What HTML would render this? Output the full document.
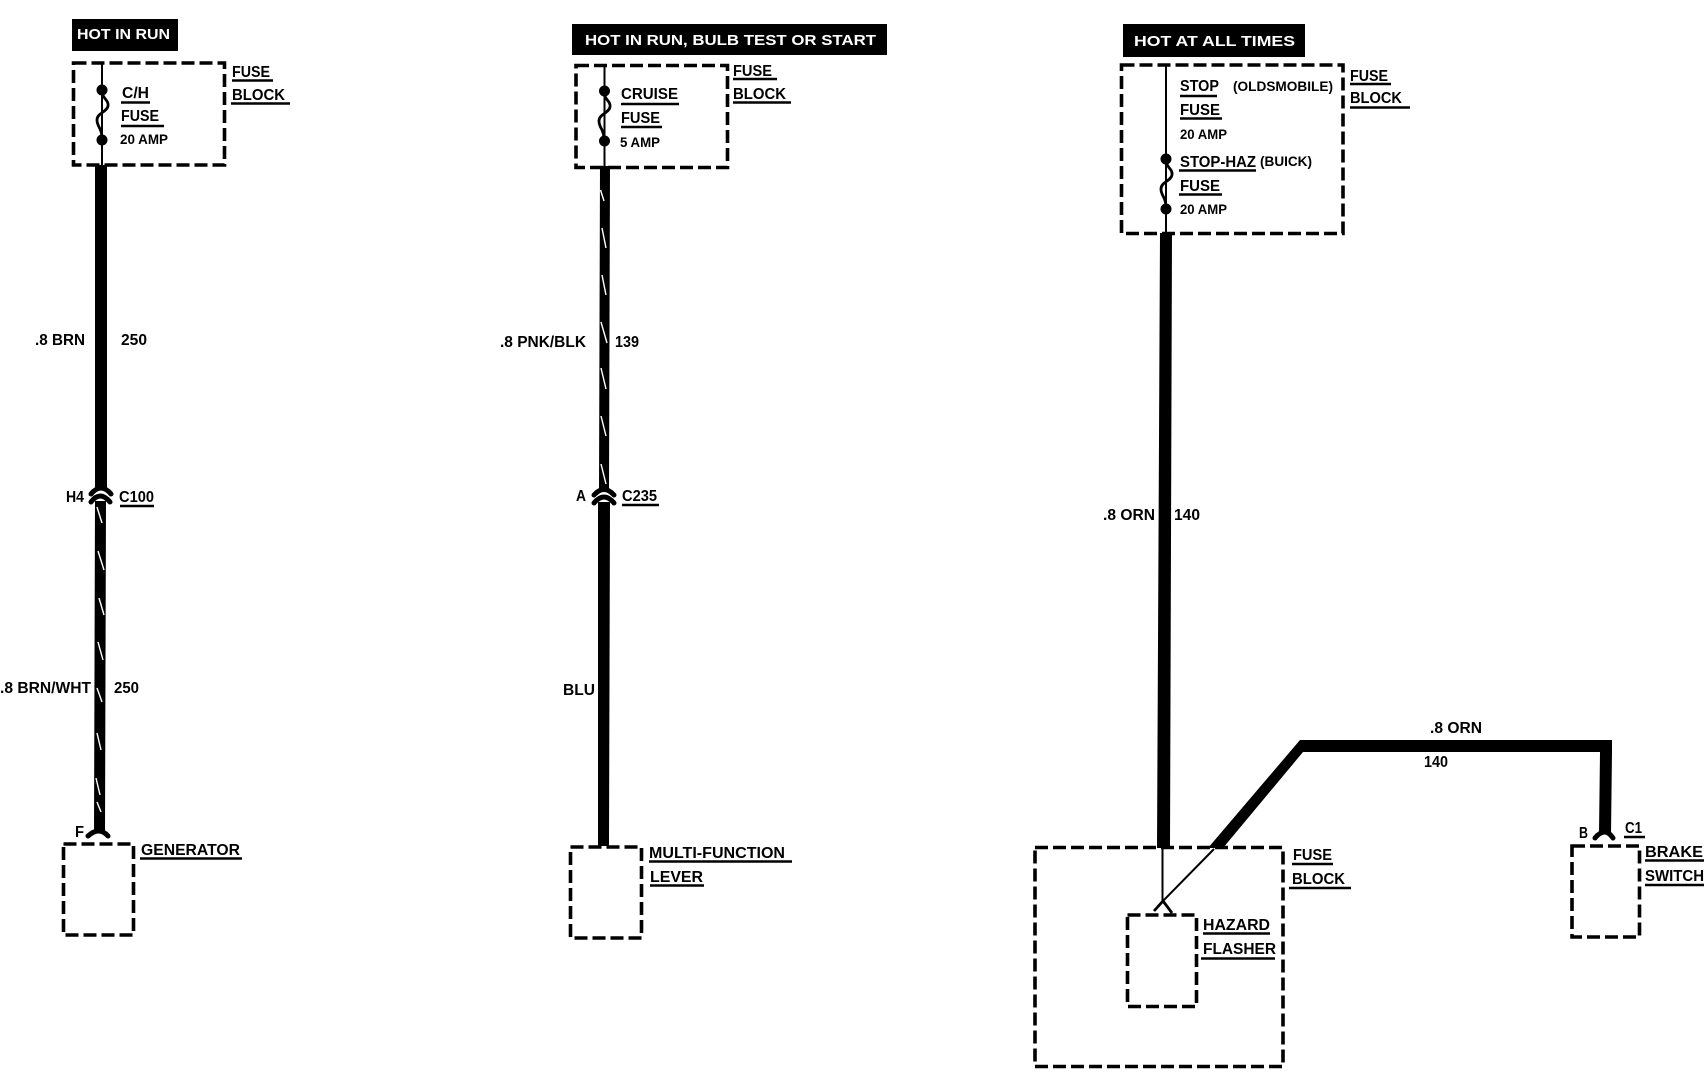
<!DOCTYPE html>
<html>
<head>
<meta charset="utf-8">
<style>
html,body{margin:0;padding:0;background:#fff;width:1704px;height:1072px;overflow:hidden}
svg{display:block}
text{font-family:"Liberation Sans",sans-serif;font-weight:bold;fill:#000;font-size:16px}
.w{fill:#fff;font-size:15px}
.s{font-size:14px}
.box{fill:none;stroke:#000;stroke-width:3.6;stroke-dasharray:13 5}
.ul{stroke:#000;stroke-width:2.4}
.thin{stroke:#000;stroke-width:2;fill:none}
.sq{stroke:#000;stroke-width:2.8;fill:none}
.st{stroke:#fff;stroke-width:1.4}
.cn{stroke:#000;stroke-width:5;fill:none;stroke-linecap:round}
</style>
</head>
<body>
<svg width="1704" height="1072" viewBox="0 0 1704 1072" xmlns="http://www.w3.org/2000/svg">
<rect width="1704" height="1072" fill="#fff"/>

<!-- Column 1 -->
<rect x="72" y="19" width="106" height="32" fill="#000"/>
<text class="w" x="77" y="39" textLength="93" lengthAdjust="spacingAndGlyphs">HOT IN RUN</text>
<rect class="box" x="73.500" y="63" width="151" height="102"/>
<line class="thin" x1="102" y1="62" x2="102" y2="165"/>
<circle cx="102" cy="90" r="5.500"/><circle cx="102" cy="140" r="5.500"/>
<path class="sq" d="M102 92C102 98 109 100 108 106C107 112 97 113 97 120C97 127 102 128 102 138"/>
<text x="122" y="98" textLength="27" lengthAdjust="spacingAndGlyphs">C/H</text>
<line class="ul" x1="121" y1="102.500" x2="150" y2="102.500"/>
<text x="121" y="121" textLength="38" lengthAdjust="spacingAndGlyphs">FUSE</text>
<line class="ul" x1="121" y1="126" x2="164" y2="126"/>
<text class="s" x="120" y="144" textLength="48" lengthAdjust="spacingAndGlyphs">20 AMP</text>
<text x="232" y="77" textLength="38" lengthAdjust="spacingAndGlyphs">FUSE</text>
<line class="ul" x1="232" y1="80.500" x2="273" y2="80.500"/>
<text x="232" y="100" textLength="53" lengthAdjust="spacingAndGlyphs">BLOCK</text>
<line class="ul" x1="231" y1="103.500" x2="290" y2="103.500"/>
<polygon points="95,165 107,165 107,490 95,490"/>
<path class="cn" d="M91 494Q101 482 111 494"/>
<path class="cn" d="M91 502Q100 490 110 502"/>
<polygon points="95,501 106,501 105,832 94,832"/>
<g class="st">
<line x1="97" y1="507" x2="102" y2="523"/><line x1="98" y1="551" x2="104" y2="570"/>
<line x1="99" y1="598" x2="104" y2="615"/><line x1="98" y1="642" x2="103" y2="660"/>
<line x1="97" y1="688" x2="102" y2="702"/><line x1="97" y1="733" x2="101" y2="750"/>
<line x1="96" y1="778" x2="100" y2="795"/><line x1="97" y1="802" x2="101" y2="812"/>
</g>
<path class="cn" d="M88 836Q99 826 108 836"/>
<text x="35" y="345" textLength="50" lengthAdjust="spacingAndGlyphs">.8 BRN</text>
<text x="121" y="345" textLength="26" lengthAdjust="spacingAndGlyphs">250</text>
<text x="66" y="502" textLength="18" lengthAdjust="spacingAndGlyphs">H4</text>
<text x="119" y="502" textLength="35" lengthAdjust="spacingAndGlyphs">C100</text>
<line class="ul" x1="120" y1="506" x2="154" y2="506"/>
<text x="0" y="693" textLength="91" lengthAdjust="spacingAndGlyphs">.8 BRN/WHT</text>
<text x="114" y="693" textLength="25" lengthAdjust="spacingAndGlyphs">250</text>
<text x="75" y="837" textLength="9" lengthAdjust="spacingAndGlyphs">F</text>
<rect class="box" x="63.500" y="844" width="70" height="91"/>
<text x="141" y="855" textLength="99" lengthAdjust="spacingAndGlyphs">GENERATOR</text>
<line class="ul" x1="140" y1="858.500" x2="242" y2="858.500"/>

<!-- Column 2 -->
<rect x="572" y="24" width="315" height="31" fill="#000"/>
<text class="w" x="585" y="45" textLength="291" lengthAdjust="spacingAndGlyphs">HOT IN RUN, BULB TEST OR START</text>
<rect class="box" x="576" y="65.500" width="151.500" height="102"/>
<line class="thin" x1="604.500" y1="65" x2="604.500" y2="168"/>
<circle cx="604.500" cy="91" r="5.500"/><circle cx="604.500" cy="141" r="5.500"/>
<path class="sq" d="M604 93C604 99 611 101 610 107C609 113 599 114 599 121C599 128 604 129 604 139"/>
<text x="621" y="99" textLength="57" lengthAdjust="spacingAndGlyphs">CRUISE</text>
<line class="ul" x1="621" y1="104" x2="679" y2="104"/>
<text x="621" y="123" textLength="39" lengthAdjust="spacingAndGlyphs">FUSE</text>
<line class="ul" x1="621" y1="127" x2="662" y2="127"/>
<text class="s" x="620" y="147" textLength="40" lengthAdjust="spacingAndGlyphs">5 AMP</text>
<text x="733" y="76" textLength="39" lengthAdjust="spacingAndGlyphs">FUSE</text>
<line class="ul" x1="733" y1="79" x2="777" y2="79"/>
<text x="733" y="99" textLength="53" lengthAdjust="spacingAndGlyphs">BLOCK</text>
<line class="ul" x1="733" y1="102.500" x2="791" y2="102.500"/>
<polygon points="600,166 610,166 609,492 599,492"/>
<g class="st">
<line x1="600.500" y1="190" x2="604" y2="201"/><line x1="602" y1="228" x2="606" y2="248"/>
<line x1="602" y1="275" x2="606" y2="295"/><line x1="601" y1="322" x2="607" y2="343"/>
<line x1="601" y1="368" x2="606" y2="389"/><line x1="601" y1="416" x2="606" y2="436"/>
<line x1="601" y1="464" x2="606" y2="484"/>
</g>
<path class="cn" d="M594 495Q604 484 614 495"/>
<path class="cn" d="M594 503Q604 491 614 503"/>
<polygon points="598,502 610,502 609,846 598,846"/>
<text x="500" y="347" textLength="86" lengthAdjust="spacingAndGlyphs">.8 PNK/BLK</text>
<text x="615" y="347" textLength="24" lengthAdjust="spacingAndGlyphs">139</text>
<text x="576" y="501" textLength="10" lengthAdjust="spacingAndGlyphs">A</text>
<text x="622" y="501" textLength="35" lengthAdjust="spacingAndGlyphs">C235</text>
<line class="ul" x1="622" y1="505" x2="659" y2="505"/>
<text x="563" y="695" textLength="32" lengthAdjust="spacingAndGlyphs">BLU</text>
<rect class="box" x="570.500" y="847" width="71" height="91"/>
<text x="649" y="858" textLength="136" lengthAdjust="spacingAndGlyphs">MULTI-FUNCTION</text>
<line class="ul" x1="649" y1="861.500" x2="792" y2="861.500"/>
<text x="650" y="882" textLength="53" lengthAdjust="spacingAndGlyphs">LEVER</text>
<line class="ul" x1="650" y1="885.500" x2="704" y2="885.500"/>

<!-- Column 3 -->
<rect x="1123" y="24" width="182" height="33" fill="#000"/>
<text class="w" x="1134" y="46" textLength="161" lengthAdjust="spacingAndGlyphs">HOT AT ALL TIMES</text>
<rect class="box" x="1121.500" y="65" width="221.500" height="168.500"/>
<line class="thin" x1="1166" y1="65" x2="1166" y2="234"/>
<circle cx="1166" cy="159" r="5.500"/><circle cx="1166" cy="209" r="5.500"/>
<path class="sq" d="M1166 161C1166 167 1173 169 1172 175C1171 181 1161 182 1161 189C1161 196 1166 197 1166 207"/>
<text x="1180" y="91" textLength="39" lengthAdjust="spacingAndGlyphs">STOP</text>
<line class="ul" x1="1180" y1="96" x2="1217" y2="96"/>
<text class="s" x="1233" y="91" textLength="100" lengthAdjust="spacingAndGlyphs">(OLDSMOBILE)</text>
<text x="1180" y="115" textLength="40" lengthAdjust="spacingAndGlyphs">FUSE</text>
<line class="ul" x1="1180" y1="118.500" x2="1222" y2="118.500"/>
<text class="s" x="1180" y="139" textLength="47" lengthAdjust="spacingAndGlyphs">20 AMP</text>
<text x="1180" y="167" textLength="76" lengthAdjust="spacingAndGlyphs">STOP-HAZ</text>
<line class="ul" x1="1179" y1="170.500" x2="1256" y2="170.500"/>
<text class="s" x="1260" y="166" textLength="52" lengthAdjust="spacingAndGlyphs">(BUICK)</text>
<text x="1180" y="191" textLength="40" lengthAdjust="spacingAndGlyphs">FUSE</text>
<line class="ul" x1="1179" y1="194.500" x2="1222" y2="194.500"/>
<text class="s" x="1180" y="214" textLength="47" lengthAdjust="spacingAndGlyphs">20 AMP</text>
<text x="1350" y="81" textLength="38" lengthAdjust="spacingAndGlyphs">FUSE</text>
<line class="ul" x1="1350" y1="84" x2="1391" y2="84"/>
<text x="1350" y="103" textLength="52" lengthAdjust="spacingAndGlyphs">BLOCK</text>
<line class="ul" x1="1350" y1="107.500" x2="1410" y2="107.500"/>
<polygon points="1160,233 1172,233 1170,848 1157,848"/>
<text x="1103" y="520" textLength="52" lengthAdjust="spacingAndGlyphs">.8 ORN</text>
<text x="1174" y="520" textLength="26" lengthAdjust="spacingAndGlyphs">140</text>
<polygon points="1300,740 1612,740 1612,752 1611,834 1599,834 1600,752 1303,752 1223,848 1208,848"/>
<path class="cn" d="M1595 838Q1605 826 1613 838"/>
<text x="1430" y="733" textLength="52" lengthAdjust="spacingAndGlyphs">.8 ORN</text>
<text x="1424" y="767" textLength="24" lengthAdjust="spacingAndGlyphs">140</text>
<text x="1579" y="838" textLength="9" lengthAdjust="spacingAndGlyphs">B</text>
<text x="1625" y="833" textLength="17" lengthAdjust="spacingAndGlyphs">C1</text>
<line class="ul" x1="1624" y1="837" x2="1645" y2="837"/>
<rect class="box" x="1572" y="846" width="67.500" height="91"/>
<text x="1645" y="857" textLength="58" lengthAdjust="spacingAndGlyphs">BRAKE</text>
<line class="ul" x1="1645" y1="860.500" x2="1704" y2="860.500"/>
<text x="1645" y="881" textLength="59" lengthAdjust="spacingAndGlyphs">SWITCH</text>
<line class="ul" x1="1645" y1="885" x2="1704" y2="885"/>
<rect class="box" x="1035" y="847.500" width="248" height="219"/>
<line class="thin" x1="1162.500" y1="847" x2="1162.500" y2="901"/>
<line class="thin" x1="1214" y1="849" x2="1162" y2="902"/>
<path d="M1154 911L1163 901L1172 913" fill="none" stroke="#000" stroke-width="2.800"/>
<rect class="box" x="1127.500" y="915" width="69" height="91.500"/>
<text x="1203" y="930" textLength="67" lengthAdjust="spacingAndGlyphs">HAZARD</text>
<line class="ul" x1="1203" y1="933.500" x2="1270" y2="933.500"/>
<text x="1203" y="954" textLength="73" lengthAdjust="spacingAndGlyphs">FLASHER</text>
<line class="ul" x1="1201" y1="958.500" x2="1275" y2="958.500"/>
<text x="1293" y="860" textLength="39" lengthAdjust="spacingAndGlyphs">FUSE</text>
<line class="ul" x1="1292" y1="864" x2="1333" y2="864"/>
<text x="1292" y="884" textLength="53" lengthAdjust="spacingAndGlyphs">BLOCK</text>
<line class="ul" x1="1289" y1="888" x2="1351" y2="888"/>
</svg>
</body>
</html>
